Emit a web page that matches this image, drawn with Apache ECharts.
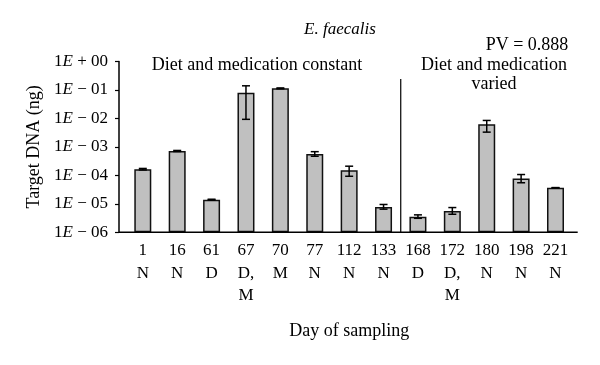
<!DOCTYPE html>
<html>
<head>
<meta charset="utf-8">
<script src="https://cdn.jsdelivr.net/npm/echarts@6/dist/echarts.min.js"></script>
<style>
html,body{margin:0;padding:0;background:#fff;}
#chart{width:600px;height:365px;}
</style>
</head>
<body>
<div id="chart"></div>
<script>
// ---- data ----
var days = ['1', '16', '61', '67', '70', '77', '112', '133', '168', '172', '180', '198', '221'];
var conditions = ['N', 'N', 'D', 'D,\nM', 'M', 'N', 'N', 'N', 'D', 'D,\nM', 'N', 'N', 'N'];
var means = [1.65e-4, 7.2e-4, 1.4e-5, 8.0e-2, 1.14e-1, 5.6e-4, 1.5e-4, 7.8e-6, 3.5e-6, 5.6e-6, 6.2e-3, 7.8e-5, 3.7e-5];
var errLow = [1.55e-4, 6.9e-4, 1.35e-5, 9.3e-3, 1.10e-1, 4.7e-4, 9.3e-5, 6.5e-6, 3.1e-6, 4.3e-6, 3.3e-3, 5.5e-5, 3.7e-5];
var errHigh = [1.75e-4, 7.5e-4, 1.45e-5, 1.4e-1, 1.18e-1, 6.8e-4, 2.1e-4, 9.5e-6, 4.1e-6, 7.4e-6, 8.5e-3, 1.07e-4, 3.7e-5];
var yTickExponents = [-6, -5, -4, -3, -2, -1, 0];
var titleText = 'E. faecalis';
var pvText = 'PV = 0.888';
var leftPhase = 'Diet and medication constant';
var rightPhase = 'Diet and medication\nvaried';
var yName = 'Target DNA (ng)';
var xName = 'Day of sampling';
var dividerAfterIndex = 7;

// ---- helpers ----
var LOGMIN = -6;
function toAxis(v) { return Math.log10(v) - LOGMIN; }
var FONT = '"Liberation Serif", "Times New Roman", serif';

var categories = days.map(function (d, i) { return d + '\n' + conditions[i]; });

var chart = echarts.init(document.getElementById('chart'), null, {renderer: 'canvas'});

var option = {
  animation: false,
  backgroundColor: '#fff',
  grid: {left: 125.6, right: 27.3, top: 61.5, bottom: 132.7, containLabel: false},
  xAxis: {
    type: 'category',
    data: categories,
    axisLine: {show: false},
    axisTick: {show: false},
    axisLabel: {
      interval: 0, margin: 7, color: '#000', fontFamily: FONT, fontSize: 17, lineHeight: 22.5
    },
    name: xName,
    nameLocation: 'middle',
    nameGap: 90,
    nameTextStyle: {color: '#000', fontFamily: FONT, fontSize: 18}
  },
  yAxis: {
    type: 'value',
    min: 0, max: -LOGMIN, interval: 1,
    offset: 6.6,
    splitLine: {show: false},
    axisLine: {show: true, lineStyle: {color: '#000', width: 1.5}},
    axisTick: {show: true, length: 4, lineStyle: {color: '#000', width: 1.2}},
    axisLabel: {
      margin: 11, color: '#000', fontFamily: FONT, fontSize: 17,
      formatter: function (val) {
        var e = Math.round(val + LOGMIN);
        if (yTickExponents.indexOf(e) < 0) return '';
        var s = (e >= 0 ? ' + ' : ' \u2212 ') + ('0' + Math.abs(e)).slice(-2);
        return '1{i|E}' + s;
      },
      rich: {i: {fontStyle: 'italic', fontFamily: FONT, fontSize: 17, color: '#000'}}
    },
    name: yName,
    nameLocation: 'middle',
    nameGap: 75,
    nameTextStyle: {color: '#000', fontFamily: FONT, fontSize: 18}
  },
  series: [
    {
      type: 'bar',
      data: means.map(toAxis),
      barWidth: 17,
      itemStyle: {color: '#c0c0c0', borderColor: '#111', borderWidth: 1.5},
      z: 2
    },
    {
      type: 'custom',
      z: 3,
      data: means.map(function (v, i) { return [i, toAxis(errLow[i]), toAxis(errHigh[i])]; }),
      renderItem: function (params, api) {
        var i = api.value(0);
        var lo = api.coord([i, api.value(1)]);
        var hi = api.coord([i, api.value(2)]);
        var hw = 4;
        var st = {stroke: '#000', lineWidth: 1.5};
        return {
          type: 'group',
          children: [
            {type: 'line', shape: {x1: lo[0], y1: lo[1], x2: hi[0], y2: hi[1]}, style: st},
            {type: 'line', shape: {x1: lo[0] - hw, y1: lo[1], x2: lo[0] + hw, y2: lo[1]}, style: st},
            {type: 'line', shape: {x1: hi[0] - hw, y1: hi[1], x2: hi[0] + hw, y2: hi[1]}, style: st}
          ]
        };
      }
    }
  ]
};
chart.setOption(option);

// annotations positioned from the axes
var pA = chart.convertToPixel({gridIndex: 0}, [dividerAfterIndex, 0]);
var pB = chart.convertToPixel({gridIndex: 0}, [dividerAfterIndex + 1, 0]);
var divX = (pA[0] + pB[0]) / 2;
var baseY = pA[1];
var first = chart.convertToPixel({gridIndex: 0}, [0, 0]);
var last = chart.convertToPixel({gridIndex: 0}, [days.length - 1, 0]);
var half = (last[0] - first[0]) / (days.length - 1) / 2;
var txt = {fill: '#000', fontFamily: FONT, fontSize: 18, textAlign: 'center', textVerticalAlign: 'middle'};

chart.setOption({
  graphic: [
    {type: 'line', shape: {x1: first[0] - half - 6.6, y1: baseY, x2: last[0] + half + 5, y2: baseY},
      style: {stroke: '#000', lineWidth: 1.5}, z: 5},
    {type: 'line', shape: {x1: divX, y1: 79, x2: divX, y2: baseY},
      style: {stroke: '#000', lineWidth: 1.2}, z: 5},
    {type: 'text', x: 340, y: 30, style: Object.assign({}, txt, {text: titleText, fontStyle: 'italic', fontSize: 17})},
    {type: 'text', x: 257, y: 65, style: Object.assign({}, txt, {text: leftPhase})},
    {type: 'text', x: 527, y: 45, style: Object.assign({}, txt, {text: pvText})},
    {type: 'text', x: 494, y: 74.5, style: Object.assign({}, txt, {text: rightPhase, lineHeight: 19})}
  ]
});
</script>
</body>
</html>
